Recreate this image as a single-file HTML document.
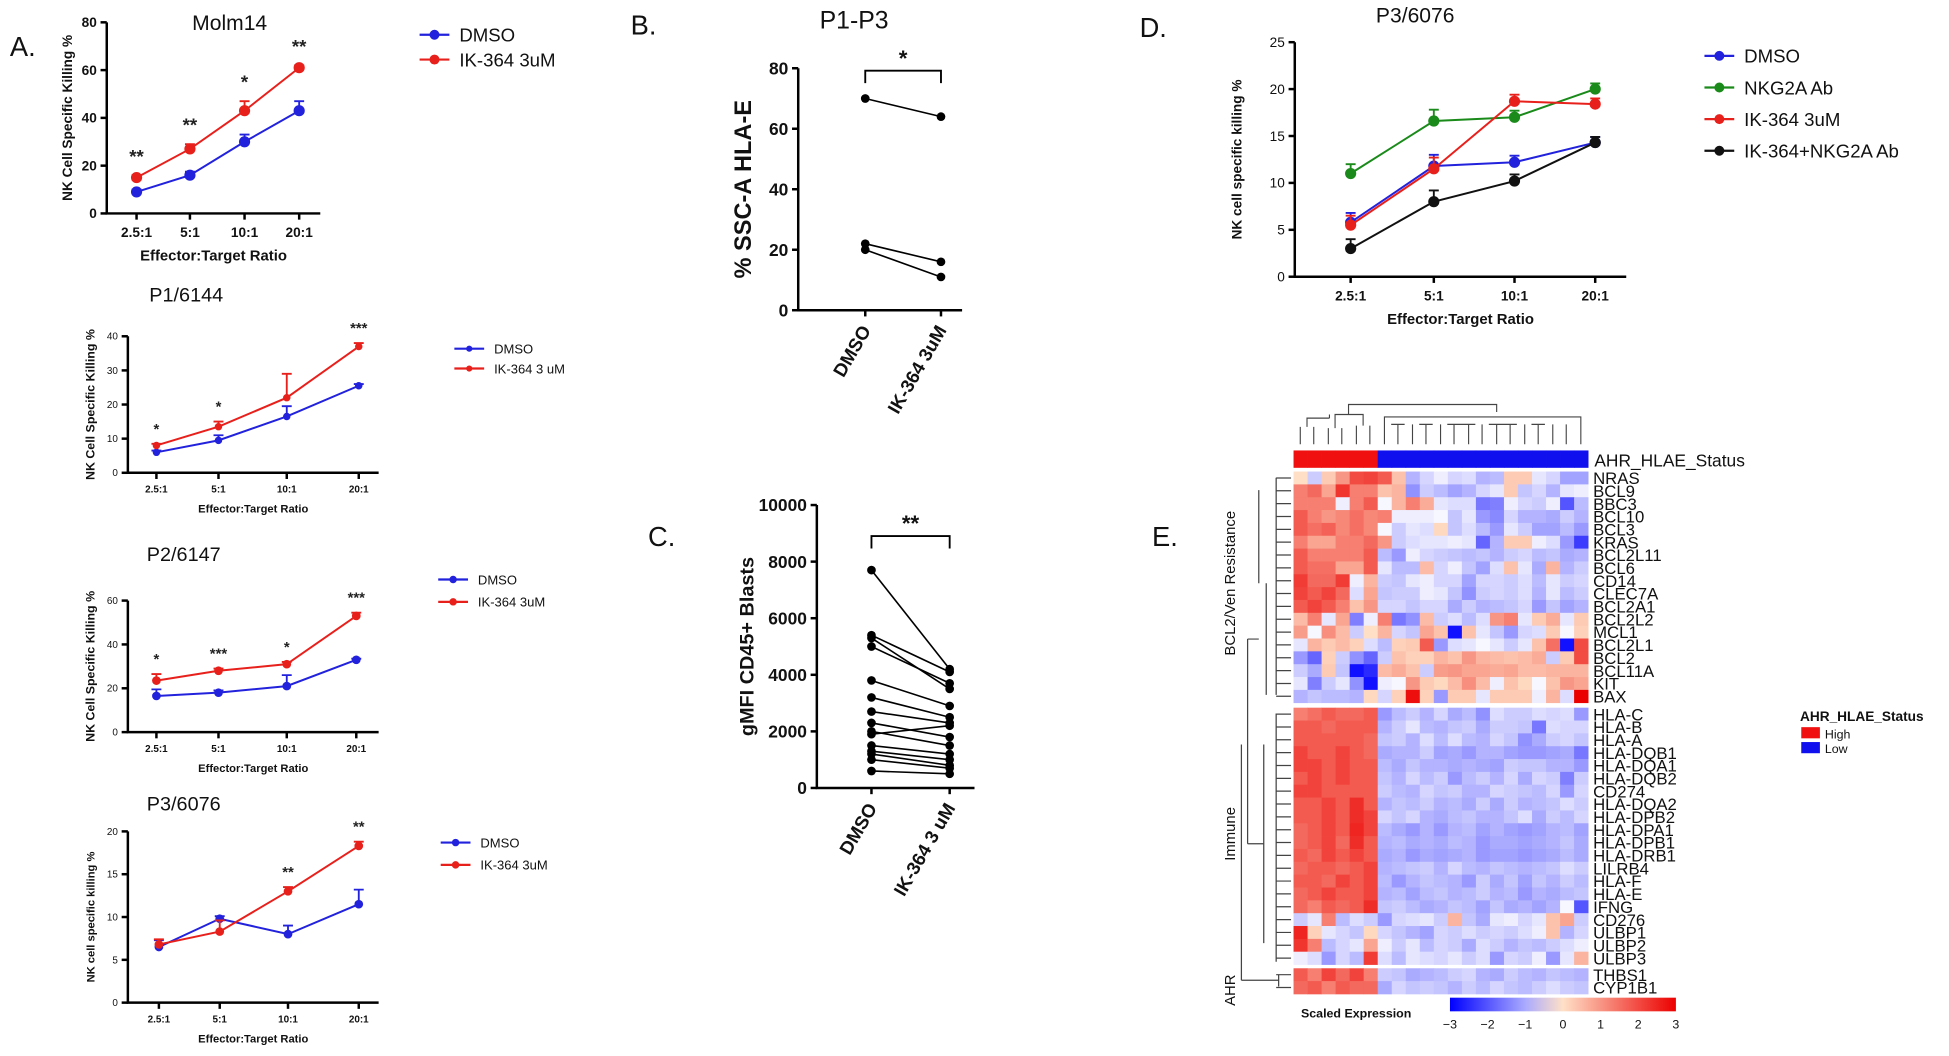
<!DOCTYPE html>
<html><head><meta charset="utf-8"><style>
html,body{margin:0;padding:0;background:#fff;}
svg{display:block;font-family:"Liberation Sans",Arial,sans-serif;}
</style></head><body>
<svg id="fig" width="1949" height="1056" viewBox="0 0 1570 851" preserveAspectRatio="none" xmlns="http://www.w3.org/2000/svg"></svg>
<script>
const ratios = ["2.5:1","5:1","10:1","20:1"];
const molmDmso = [9,16,30,43];
const molmDmsoErr = [1,1.5,3,4];
const molmIk = [15,27,43,61];
const molmIkErr = [1,2,4,1];
const molmStars = ["**","**","*","**"];
const p1Dmso = [6,9.5,16.5,25.5];
const p1DmsoErr = [0.5,1.5,3,0.5];
const p1Ik = [8,13.5,22,37];
const p1IkErr = [0.5,1.5,7,1];
const p1Stars = ["*","*","","***"];
const p2Dmso = [16.5,18,21,33];
const p2DmsoErr = [3,1,5,0.5];
const p2Ik = [23.5,28,31,53];
const p2IkErr = [3,1,1,1.5];
const p2Stars = ["*","***","*","***"];
const p3Dmso = [6.5,9.8,8,11.5];
const p3DmsoErr = [0.8,0.3,1,1.7];
const p3Ik = [6.8,8.3,13,18.3];
const p3IkErr = [0.6,1.3,0.5,0.5];
const p3Stars = ["","","**","**"];
const dDmso = [5.8,11.8,12.2,14.3];
const dNkg = [11,16.6,17,20];
const dIk = [5.5,11.5,18.7,18.4];
const dCombo = [3,8,10.2,14.3];
const dErr = [1,1.2,0.7,0.6];
const bDmso = [70,22,20];
const bIk = [64,16,11];
const cDmso = [7700,5400,5300,5000,3800,3200,2700,2300,2000,1900,1500,1300,1200,1000,600];
const cIk = [4200,4100,3500,3700,2900,2500,2300,1800,1500,2200,1200,1000,800,700,500];
const genes = ["NRAS","BCL9","BBC3","BCL10","BCL3","KRAS","BCL2L11","BCL6","CD14","CLEC7A","BCL2A1","BCL2L2","MCL1","BCL2L1","BCL2","BCL11A","KIT","BAX","HLA-C","HLA-B","HLA-A","HLA-DQB1","HLA-DQA1","HLA-DQB2","CD274","HLA-DQA2","HLA-DPB2","HLA-DPA1","HLA-DPB1","HLA-DRB1","LILRB4","HLA-F","HLA-E","IFNG","CD276","ULBP1","ULBP2","ULBP3","THBS1","CYP1B1"];
const heat = [
[0,-.6,.3,1,2,2.1,1.8,.4,-.9,-.5,-.2,-.5,-.4,-.9,-.8,.3,.3,-.3,-.5,-1.1,-1.1],
[1.3,1.6,.8,2.3,1.3,1.3,.4,.6,-1.3,-.6,-.8,-1.1,-.9,-.5,-.3,.3,-.7,-.5,-.9,-.3,-.2],
[1.3,1.3,1.3,-.2,1.3,1.8,-.1,.6,1.3,.7,-.3,-.4,-.4,-1.6,-1.5,-.2,-.5,-.6,-.2,-2,-.8],
[1.8,1.3,1,1.2,1.5,1.2,1.3,-.2,-.2,-.2,-.1,-.7,-.3,-1.2,-1.4,-.5,-.9,-.9,-1,-.6,-.9],
[1.8,1.5,1.7,1.2,1.5,1.2,-.1,-.6,-.3,-.4,.1,-.7,-.4,-.8,-1.2,-.3,-.6,-1.1,-1.1,-.8,-1.2],
[1.3,.8,.8,1.3,1.3,1.6,1,-.6,-.4,-.3,-.3,-.2,-.3,-1.8,-.9,.3,.3,-.2,-.4,-1.2,-2.3],
[1.8,1.3,1.3,1.3,1.3,1.8,-.8,-1.2,-.2,-.5,-.6,-.7,-.8,-.7,-.9,-.6,-.5,-.8,-.7,-1,-.9],
[1.8,1.5,1.5,.8,.8,1.8,-.3,-.8,-.8,.5,-.5,-.2,-.7,-1.1,-.4,.4,-.3,-1,.6,-.9,-.6],
[2.2,1.6,1.6,2.2,-.2,.6,-.6,-.7,-.3,-.2,-.5,-.5,-1.1,-.5,-.5,-.6,-.4,-.8,-.3,-.6,-.5],
[2.1,1.8,2.1,1.6,-.4,.8,-.7,-.6,-.6,-.2,-.3,-.7,-1.3,-.6,-.5,-.6,-.4,-.9,-.3,-.8,-.6],
[1.8,2.1,1.8,1.3,.4,1,-.5,-.5,-.7,-.5,-.5,-1,-.6,-.9,-.8,-.7,-.5,-1.2,-.7,-1.1,-.9],
[.5,1.3,-.3,.8,-1.5,-.2,1.3,-1.6,-1.3,.5,-.6,-.4,-.8,-.4,1,1.3,-.3,.3,.7,-.3,.3],
[.9,-.1,1.1,.5,-.6,0,.6,-.5,-.7,.8,.4,-2.8,.4,-.3,-.7,-1.2,-.5,-.4,.3,-.1,.2],
[-.3,.6,.3,.5,.2,-.4,-.8,.2,.3,1.8,-1.2,-.4,-.3,-.1,-.3,-.6,-.3,.4,1.5,-2.8,2],
[-1.2,-1.8,.2,-.6,-1.3,-1.8,-.6,.4,.2,.2,.6,.4,1,.6,.5,.4,.5,.7,-.6,.3,2],
[-.6,-1,.3,-.7,-2.8,-2.5,.5,.7,.4,-.6,.9,1,.8,.8,.7,.8,.5,.5,.6,.6,.6],
[-.3,-1.5,-.6,-.3,-1.3,-2.8,-.2,-.1,1,.3,.1,.5,1.1,.5,-.2,.4,.1,-.1,.4,1,.8],
[-.9,-.7,-.8,-.8,-.9,.1,-.5,.2,2.8,.2,-1.2,.3,.3,-.3,.3,.3,.3,-.2,.6,-.4,3],
[1.3,1.5,1.8,1.6,1.6,1.8,-1.2,-.8,-.6,-.9,-.5,-1,-.8,-1.3,-.4,-.6,-.6,-.4,-.5,-.4,-1.2],
[1.8,1.8,1.6,1.8,1.8,1.8,-.9,-.6,-.3,-.8,-.9,-.7,-.6,-1,-.6,-.6,-.7,-1.6,-.4,-.5,-.5],
[1.8,1.8,1.8,1.8,1.8,1.6,-.7,-.6,-.9,-.4,-.8,-.4,-.8,-.9,-.5,-.7,-1.3,-1,-.6,-.5,-.7],
[2.1,1.8,1.8,2.1,1.8,1.6,-1,-.9,-.9,-.6,-1.1,-1,-1.2,-.9,-.9,-1.1,-1.2,-1.2,-1.1,-1,-1.6],
[2.1,2.1,1.8,2.1,1.8,1.8,-.8,-1,-.7,-.9,-.9,-1,-.9,-1,-1.1,-.6,-.7,-.7,-.9,-.9,-1.2],
[1.8,2.1,1.8,2.1,1.8,1.8,-.7,-.9,-.5,-.8,-.6,-1.2,-.8,-.6,-.9,-.5,-1,-.5,-.6,-1.5,-.6],
[2.1,2.1,1.8,1.8,1.8,1.8,-.6,-.8,-.9,-.5,-.7,-.6,-.9,-.9,-.5,-.6,-.7,-.8,-.5,-1.2,-.5],
[1.8,1.8,2.1,1.8,2.4,1.8,-.9,-.7,-.8,-.6,-.9,-.8,-1,-.6,-1,-.6,-.9,-.8,-.7,-.4,-.6],
[1.8,1.8,2.1,1.8,2.4,2.1,-.5,-.7,-.5,-.9,-1,-.8,-.7,-.9,-.9,-.7,-.4,-1,-.6,-.8,-.5],
[1.6,1.8,2.1,1.8,2.5,2.1,-.8,-1,-1.2,-.9,-1.2,-.9,-.8,-1.1,-.9,-1.1,-1.2,-1.1,-.9,-.8,-1.1],
[1.6,1.8,2.1,1.6,2.4,1.8,-.9,-.8,-1,-.9,-1,-.8,-.9,-1.2,-1,-1,-1.1,-1,-.9,-.7,-1],
[1.8,1.6,2.1,1.8,2.1,1.8,-1,-.9,-1.2,-1,-1.1,-1,-.9,-1.2,-1.1,-1.1,-1.2,-1.1,-1,-.8,-1],
[1.6,1.8,1.8,1.6,1.8,2.1,-.9,-.8,-.7,-.6,-.9,-.5,-.8,-.9,-.7,-.8,-.9,-.8,-.7,-.4,-.6],
[1.8,1.8,1.6,2.1,1.8,2.1,-.8,-1.2,-.9,-.7,-.8,-.9,-1.2,-.6,-1,-.7,-1.1,-.7,-.9,-.6,-.8],
[1.6,1.8,2.1,1.8,1.8,2.1,-.9,-.8,-1.1,-.8,-.7,-.9,-.8,-.6,-.9,-.8,-1.2,-.9,-1,-.8,-.7],
[1.6,1.3,1.8,1.6,1.8,2.4,-.7,-.6,-.8,-1,-.9,-.7,-.8,-1.1,-.7,-1,-.9,-1.1,-.9,-.1,-2],
[-.6,-.3,1.3,-.8,-.4,-.6,-1.2,-.5,-.4,-.3,-.6,.6,-.7,-1,-.3,-.2,-.5,-.3,.4,.8,-.6],
[2.5,.2,-.3,-.5,-.7,.1,-.5,-.7,-.9,-1.1,-.5,-.6,-.4,-.6,-.5,-.6,-.4,-.2,.4,-.9,-.5],
[2.3,1.3,-.8,-.5,-.3,.8,-.2,-.6,-.3,-.8,-.5,-.6,-1,-.4,-.6,-.9,-.7,-.8,-.6,-.4,-.2],
[-.2,-.4,-1.2,-.5,-.8,2.2,-.4,-.8,-.3,-.4,-.5,-.3,-.6,-.4,-1.2,-.5,-.6,-.2,-1.2,-.3,.6],
[1.8,1.3,2.1,1.6,2.1,1.3,-.6,-.7,-1,-.9,-.8,-.6,-.5,-.9,-1,-.6,-.8,-.9,-.7,-.8,-.9],
[1.6,1.8,1.3,1.8,1.6,1.6,-1,-.5,-.7,-.6,-.7,-.9,-.6,-.8,-.5,-.7,-.8,-.6,-.4,-.6,-.7]
];
const heatStatus = ["High","High","High","High","High","High","Low","Low","Low","Low","Low","Low","Low","Low","Low","Low","Low","Low","Low","Low","Low"];
const colorTicks = [-3,-2,-1,0,1,2,3];

const NS="http://www.w3.org/2000/svg";
const svg=document.getElementById('fig');
function mk(tag,attrs,parent){const e=document.createElementNS(NS,tag);for(const k in attrs)e.setAttribute(k,attrs[k]);(parent||svg).appendChild(e);return e;}
function txt(s,x,y,size,opts,parent){opts=opts||{};const t=mk('text',{x:x,y:y,'font-size':size,'text-anchor':opts.anchor||'start','font-weight':opts.bold?'bold':'normal',fill:opts.fill||'#111'},parent);if(opts.rot!==undefined)t.setAttribute('transform','rotate('+opts.rot+' '+x+' '+y+')');t.textContent=s;return t;}
function grp(name){const g=mk('g',{});return g;}

function linePanel(cfg){
  const g=grp(cfg.name);
  const yS=v=>cfg.y0-(v/cfg.ymax)*(cfg.y0-cfg.yTop);
  const xS=i=>cfg.xs[i];
  const ax=mk('path',{d:'M'+cfg.x0+' '+cfg.yTop+' V'+cfg.y0+' H'+cfg.xEnd,stroke:'#000','stroke-width':2,fill:'none'},g);
  
  
  cfg.ticks.forEach(t=>{mk('line',{x1:cfg.x0-5,x2:cfg.x0,y1:yS(t),y2:yS(t),stroke:'#000','stroke-width':2},g);
    const l=txt(String(t),cfg.x0-8,yS(t)+cfg.fs*0.35,cfg.fs,{anchor:'end',bold:cfg.bold},g);
    });
  ratios.forEach((r,i)=>{mk('line',{x1:xS(i),x2:xS(i),y1:cfg.y0,y2:cfg.y0+5,stroke:'#000','stroke-width':2},g);
    const l=txt(r,xS(i),cfg.y0+cfg.fs+8,cfg.fs,{anchor:'middle',bold:true},g);
    });
  const xt=txt('Effector:Target Ratio',(cfg.x0+cfg.xEnd)/2,cfg.y0+cfg.fs*2+16,cfg.fs+1,{anchor:'middle',bold:true},g);
  
  const yt=txt(cfg.ylabel,cfg.ylx,(cfg.y0+cfg.yTop)/2,cfg.yfs,{anchor:'middle',bold:true,rot:-90},g);
  
  const tt=txt(cfg.title,cfg.tx,cfg.ty,cfg.tfs,{anchor:'middle'},g);
  
  cfg.series.forEach(s=>{
    const sg=grp('series-'+s.label.toLowerCase().replace(/[^a-z0-9]+/g,'-'));g.appendChild(sg);
    mk('polyline',{points:s.vals.map((v,i)=>xS(i)+','+yS(v)).join(' '),fill:'none',stroke:s.color,'stroke-width':1.6},sg);
    s.vals.forEach((v,i)=>{const e=s.err?s.err[i]:0;if(e>0){mk('path',{d:'M'+xS(i)+' '+yS(v)+' V'+yS(v+e)+' M'+(xS(i)-4)+' '+yS(v+e)+' H'+(xS(i)+4),stroke:s.color,'stroke-width':1.5},sg);}
      const c=mk('circle',{cx:xS(i),cy:yS(v),r:cfg.r,fill:s.color},sg);
      });
  });
  if(cfg.stars){cfg.stars.forEach((st,i)=>{if(!st)return;const top=cfg.series[1].vals[i]+(cfg.series[1].err?cfg.series[1].err[i]:0);
    const l=txt(st,xS(i),yS(top)-cfg.starGap,cfg.fs+4,{anchor:'middle',bold:true,fill:'#222'},g);
    });}
  cfg.series.forEach((s,k)=>{const ly=cfg.ly+k*cfg.lstep;
    const lg=grp('legend-entry');g.appendChild(lg);
    mk('line',{x1:cfg.lx-12,x2:cfg.lx+12,y1:ly,y2:ly,stroke:s.color,'stroke-width':1.8},lg);
    mk('circle',{cx:cfg.lx,cy:ly,r:cfg.r-0.5,fill:s.color},lg);
    txt(s.label,cfg.lx+20,ly+cfg.lfs*0.37,cfg.lfs,{},lg);});
}

linePanel({name:'panel-a-molm14',x0:86,y0:172,yTop:18,ymax:80,ticks:[0,20,40,60,80],xs:[110,153,197,241],xEnd:258,fs:11,bold:true,
 ylabel:'NK Cell Specific Killing %',ylx:58,yfs:11,title:'Molm14',tx:185,ty:24,tfs:17,r:4.5,starGap:10,stars:molmStars,
 series:[{label:'DMSO',color:'#2222dd',vals:molmDmso,err:molmDmsoErr},{label:'IK-364  3uM',color:'#e8201c',vals:molmIk,err:molmIkErr}],
 lx:350,ly:28,lstep:20,lfs:15});
linePanel({name:'panel-a-p1-6144',x0:103,y0:381,yTop:271,ymax:40,ticks:[0,10,20,30,40],xs:[126,176,231,289],xEnd:305,fs:8,bold:false,
 ylabel:'NK Cell Specific Killing %',ylx:76,yfs:10,title:'P1/6144',tx:150,ty:243,tfs:16,r:3,starGap:8,stars:p1Stars,
 series:[{label:'DMSO',color:'#2222dd',vals:p1Dmso,err:p1DmsoErr},{label:'IK-364 3 uM',color:'#e8201c',vals:p1Ik,err:p1IkErr}],
 lx:378,ly:281,lstep:16,lfs:10.5});
linePanel({name:'panel-a-p2-6147',x0:103,y0:590,yTop:484,ymax:60,ticks:[0,20,40,60],xs:[126,176,231,287],xEnd:305,fs:8,bold:false,
 ylabel:'NK Cell Specific Killing %',ylx:76,yfs:10,title:'P2/6147',tx:148,ty:452,tfs:16,r:3.5,starGap:8,stars:p2Stars,
 series:[{label:'DMSO',color:'#2222dd',vals:p2Dmso,err:p2DmsoErr},{label:'IK-364 3uM',color:'#e8201c',vals:p2Ik,err:p2IkErr}],
 lx:365,ly:467,lstep:18,lfs:10.5});
linePanel({name:'panel-a-p3-6076',x0:103,y0:808,yTop:670,ymax:20,ticks:[0,5,10,15,20],xs:[128,177,232,289],xEnd:305,fs:8,bold:false,
 ylabel:'NK cell specific killing %',ylx:76,yfs:9,title:'P3/6076',tx:148,ty:653,tfs:16,r:3.5,starGap:8,stars:p3Stars,
 series:[{label:'DMSO',color:'#2222dd',vals:p3Dmso,err:p3DmsoErr},{label:'IK-364  3uM',color:'#e8201c',vals:p3Ik,err:p3IkErr}],
 lx:367,ly:679,lstep:18,lfs:10.5});
linePanel({name:'panel-d-p3-6076',x0:1043,y0:223,yTop:34,ymax:25,ticks:[0,5,10,15,20,25],xs:[1088,1155,1220,1285],xEnd:1310,fs:11,bold:false,
 ylabel:'NK cell specific killing %',ylx:1000,yfs:11,title:'P3/6076',tx:1140,ty:18,tfs:17,r:4.5,starGap:8,stars:null,
 series:[{label:'DMSO',color:'#2222dd',vals:dDmso,err:dErr},{label:'NKG2A Ab',color:'#1a8a1a',vals:dNkg,err:dErr},{label:'IK-364 3uM',color:'#e8201c',vals:dIk,err:dErr},{label:'IK-364+NKG2A Ab',color:'#111',vals:dCombo,err:dErr}],
 lx:1385,ly:45,lstep:25.5,lfs:15});

[['A.',8,45],['B.',508,28],['C.',522,440],['D.',918,30],['E.',928,440]].forEach(p=>{const l=txt(p[0],p[1],p[2],22,{});});

function pairPanel(cfg){
  const g=grp(cfg.name);
  const yS=v=>cfg.y0-(v/cfg.ymax)*(cfg.y0-cfg.yTop);
  mk('path',{d:'M'+cfg.x0+' '+cfg.yTop+' V'+cfg.y0+' H'+cfg.xEnd,stroke:'#000','stroke-width':2,fill:'none'},g);
  cfg.ticks.forEach(t=>{mk('line',{x1:cfg.x0-5,x2:cfg.x0,y1:yS(t),y2:yS(t),stroke:'#000','stroke-width':2},g);
    const l=txt(String(t),cfg.x0-8,yS(t)+5,14,{anchor:'end',bold:true},g);});
  [cfg.xa,cfg.xb].forEach((x,i)=>{mk('line',{x1:x,x2:x,y1:cfg.y0,y2:cfg.y0+5,stroke:'#000','stroke-width':2},g);
    const l=txt(cfg.xl[i],x+5,cfg.y0+16,15,{anchor:'end',bold:true,rot:-60},g);});
  const yt=txt(cfg.ylabel,cfg.ylx,(cfg.y0+cfg.yTop)/2,cfg.yfs,{anchor:'middle',bold:true,rot:-90},g);
  cfg.a.forEach((v,i)=>{const pg=grp('paired-sample');g.appendChild(pg);
    mk('line',{x1:cfg.xa,y1:yS(v),x2:cfg.xb,y2:yS(cfg.b[i]),stroke:'#000','stroke-width':1.3},pg);
    mk('circle',{cx:cfg.xa,cy:yS(v),r:3.5,fill:'#000'},pg);mk('circle',{cx:cfg.xb,cy:yS(cfg.b[i]),r:3.5,fill:'#000'},pg);});
  mk('path',{d:'M'+cfg.xa+' '+(cfg.by+10)+' V'+cfg.by+' H'+cfg.xb+' V'+(cfg.by+10),stroke:'#000','stroke-width':1.5,fill:'none'},g);
  const s=txt(cfg.star,(cfg.xa+cfg.xb)/2,cfg.by-4,18,{anchor:'middle',bold:true},g);
  if(cfg.title){const t=txt(cfg.title,cfg.tx,cfg.ty,20,{anchor:'middle'},g);}
}
pairPanel({name:'panel-b',x0:643,y0:250,yTop:55,ymax:80,ticks:[0,20,40,60,80],xa:697,xb:758,xEnd:775,xl:['DMSO','IK-364 3uM'],
  ylabel:'% SSC-A HLA-E',ylx:605,yfs:19,a:bDmso,b:bIk,by:57,star:'*',title:'P1-P3',tx:688,ty:23});
pairPanel({name:'panel-c',x0:658,y0:635,yTop:407,ymax:10000,ticks:[0,2000,4000,6000,8000,10000],xa:702,xb:765,xEnd:785,xl:['DMSO','IK-364 3 uM'],
  ylabel:'gMFI CD45+ Blasts',ylx:607,yfs:16,a:cDmso,b:cIk,by:432,star:'**',title:null});

function heatColor(v){v=Math.max(-3,Math.min(3,v));let r,g,b;
  if(v<0){const t=-v/3;r=255*(1-t);g=255*(1-t);b=255;}else{const t=v/3;r=255-20*t;g=255*(1-t)*0.88;b=255*(1-t)*0.78;}
  return 'rgb('+Math.round(r)+','+Math.round(g)+','+Math.round(b)+')';}
const hg=grp('panel-e-heatmap');
const hx0=1042,cw=11.3,rh=10.35;
function rowY(i){return 380+i*rh+(i>=18?4:0)+(i>=38?3:0);}
heatStatus.forEach((s,j)=>{const r=mk('rect',{x:hx0+j*cw,y:363,width:cw+0.3,height:14,fill:s==='High'?'#f01010':'#1010ee'},hg);
  });
txt('AHR_HLAE_Status',hx0+21*cw+5,376,14,{},hg);
heat.forEach((row,i)=>{row.forEach((v,j)=>{const r=mk('rect',{x:hx0+j*cw,y:rowY(i),width:cw+0.3,height:rh+0.3,fill:heatColor(v)},hg);
  });
  const l=txt(genes[i],hx0+21*cw+4,rowY(i)+rh-0.2,13.5,{},hg);});
const dp='M1050 358V344M1062 358V344M1056 344V337H1076M1075 358V345M1087 358V345M1081 345V340M1100 358V343M1112 358V343M1106 343V338M1081 340V334H1106V338M1076 337V334M1093 334V326H1225V332M1125 358V342M1137 358V342M1150 358V342M1162 358V342M1175 358V342M1187 358V342M1200 358V342M1212 358V342M1225 358V342M1237 358V342M1250 358V342M1262 358V342M1275 358V342M1287 358V342M1300 358V342M1125 342V336H1300V342M1131 342H1143M1156 342H1168M1181 342H1206M1218 342H1243M1256 342H1268';
const dd=mk('path',{d:dp,stroke:'#444','stroke-width':1,fill:'none',transform:'translate(1042,0) scale(0.904,1) translate(-1044,0)'},hg);
let rp='';for(let i=0;i<40;i++){const y=rowY(i)+rh/2;rp+='M1040 '+y+'H1028';}
rp+='M1028 385V560M1020 470V560M1014 395V470M1028 575V775M1018 600V760M1030 785V795M1005 515V680M1005 680H1018M1005 515H1014M1000 600V790M1000 790H1030';
const rd=mk('path',{d:rp,stroke:'#444','stroke-width':1,fill:'none'},hg);
[['BCL2/Ven Resistance',995,470],['Immune',995,672],['AHR',995,798]].forEach(p=>{const l=txt(p[0],p[1],p[2],12,{anchor:'middle',rot:-90},hg);});
const cb=grp('color-scale-legend');
const defs=mk('defs',{},cb);const lgd=mk('linearGradient',{id:'cbg',x1:0,x2:1,y1:0,y2:0},defs);
colorTicks.forEach((t,i)=>mk('stop',{offset:(i/(colorTicks.length-1)),'stop-color':heatColor(t)},lgd));
mk('rect',{x:1168,y:804,width:182,height:11,fill:'url(#cbg)'},cb);
colorTicks.forEach((t,i)=>{const x=1168+i*182/6;txt(t<0?'\u2212'+(-t):String(t),x,829,10,{anchor:'middle'},cb);});
txt('Scaled Expression',1048,820,10,{bold:true},cb);
const sl=grp('status-legend');
txt('AHR_HLAE_Status',1450,581,11,{bold:true},sl);
mk('rect',{x:1451,y:586,width:15,height:9,fill:'#f01010'},sl);txt('High',1470,595,10,{},sl);
mk('rect',{x:1451,y:598,width:15,height:9,fill:'#1010ee'},sl);txt('Low',1470,607,10,{},sl);
</script>
</body></html>
